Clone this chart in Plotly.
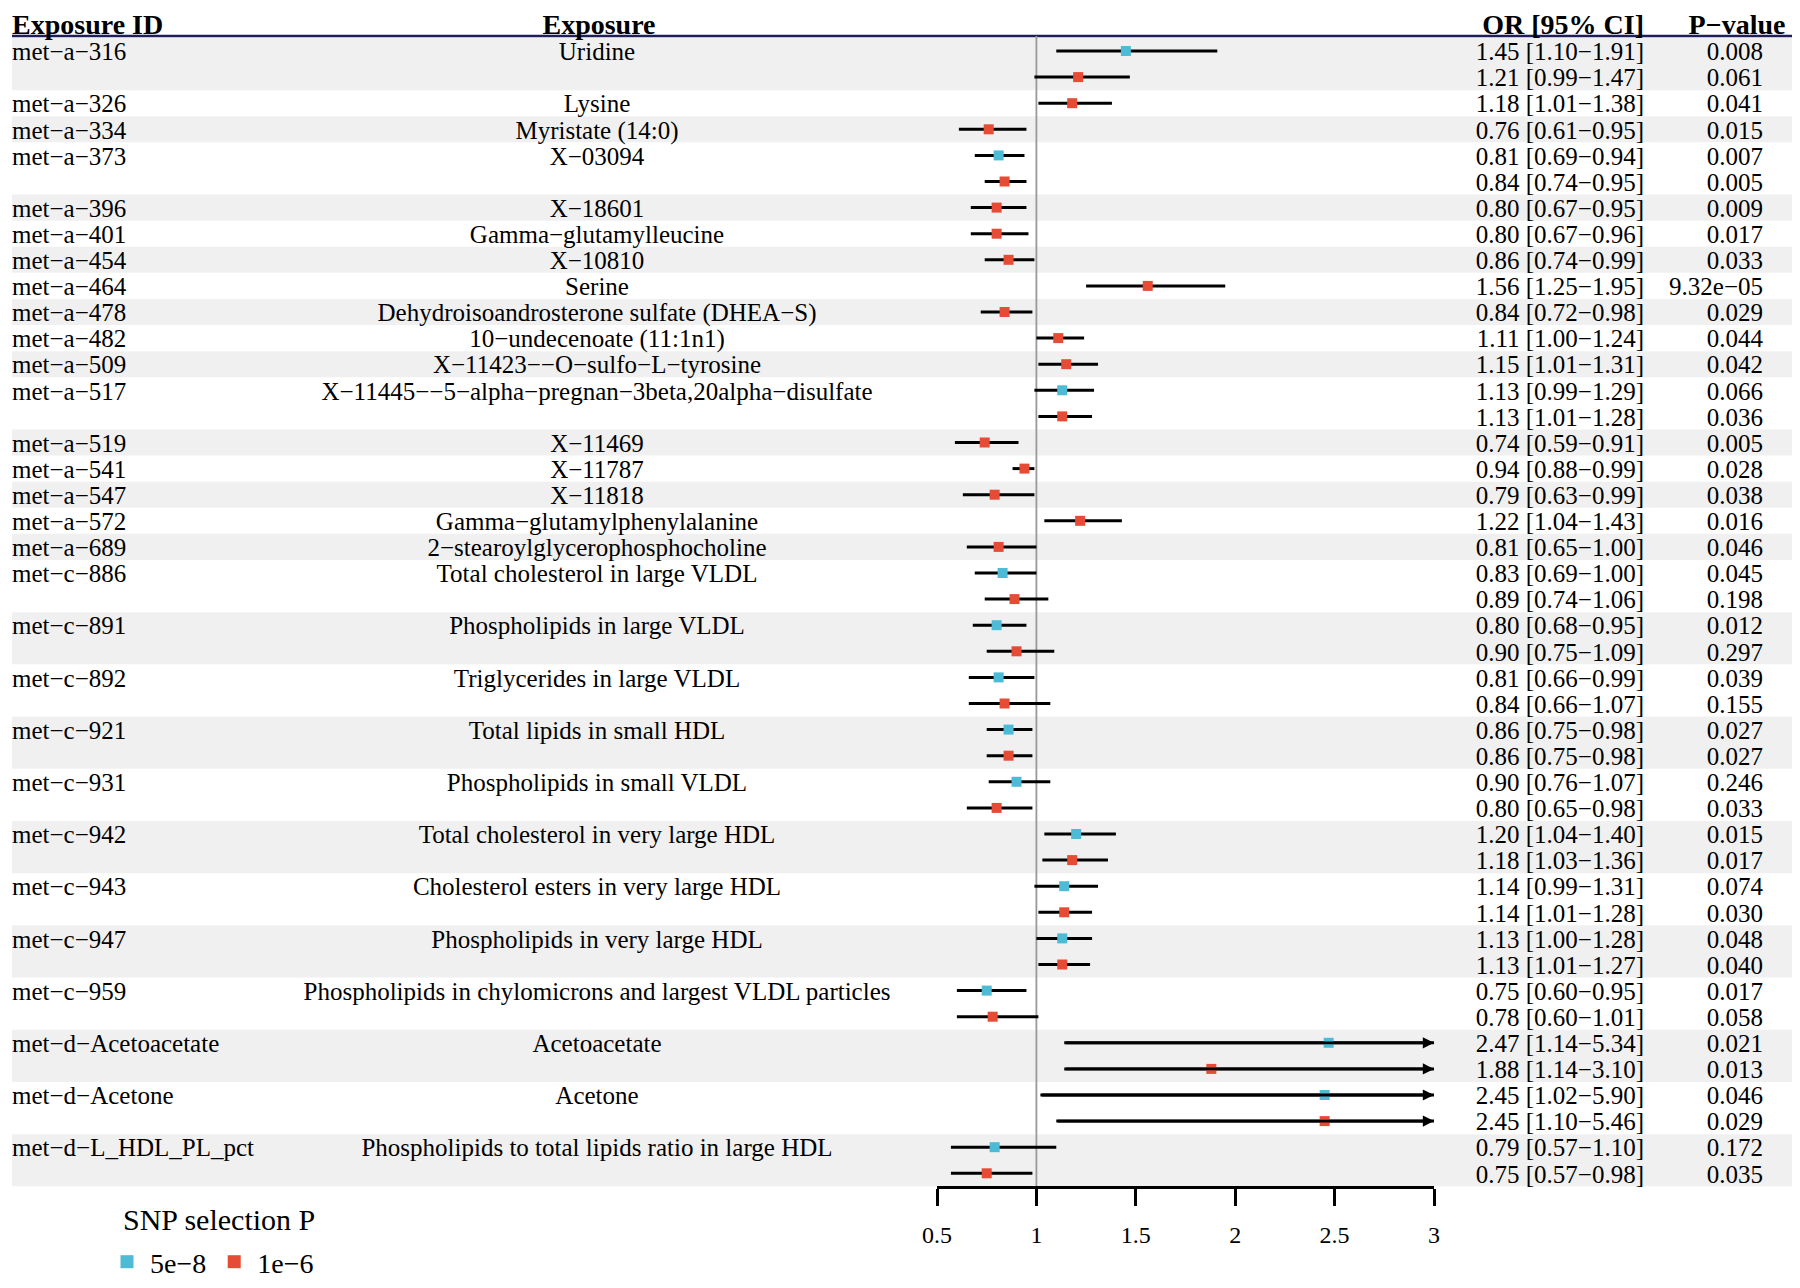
import plotly.graph_objects as go

# one entry per row of the forest plot (blank id = second SNP-threshold row of same exposure)
exposure_ids = ["met−a−316", "", "met−a−326", "met−a−334", "met−a−373", "", "met−a−396", "met−a−401",
                "met−a−454", "met−a−464", "met−a−478", "met−a−482", "met−a−509", "met−a−517", "",
                "met−a−519", "met−a−541", "met−a−547", "met−a−572", "met−a−689", "met−c−886", "",
                "met−c−891", "", "met−c−892", "", "met−c−921", "", "met−c−931", "", "met−c−942", "",
                "met−c−943", "", "met−c−947", "", "met−c−959", "", "met−d−Acetoacetate", "",
                "met−d−Acetone", "", "met−d−L_HDL_PL_pct", ""]
exposures = ["Uridine", "", "Lysine", "Myristate (14:0)", "X−03094", "", "X−18601", "Gamma−glutamylleucine",
             "X−10810", "Serine", "Dehydroisoandrosterone sulfate (DHEA−S)", "10−undecenoate (11:1n1)",
             "X−11423−−O−sulfo−L−tyrosine", "X−11445−−5−alpha−pregnan−3beta,20alpha−disulfate", "",
             "X−11469", "X−11787", "X−11818", "Gamma−glutamylphenylalanine", "2−stearoylglycerophosphocholine",
             "Total cholesterol in large VLDL", "", "Phospholipids in large VLDL", "",
             "Triglycerides in large VLDL", "", "Total lipids in small HDL", "", "Phospholipids in small VLDL", "",
             "Total cholesterol in very large HDL", "", "Cholesterol esters in very large HDL", "",
             "Phospholipids in very large HDL", "", "Phospholipids in chylomicrons and largest VLDL particles", "",
             "Acetoacetate", "", "Acetone", "", "Phospholipids to total lipids ratio in large HDL", ""]
snp_p = ["5e−8", "1e−6", "1e−6", "1e−6", "5e−8", "1e−6", "1e−6", "1e−6", "1e−6", "1e−6", "1e−6", "1e−6",
         "1e−6", "5e−8", "1e−6", "1e−6", "1e−6", "1e−6", "1e−6", "1e−6", "5e−8", "1e−6", "5e−8", "1e−6",
         "5e−8", "1e−6", "5e−8", "1e−6", "5e−8", "1e−6", "5e−8", "1e−6", "5e−8", "1e−6", "5e−8", "1e−6",
         "5e−8", "1e−6", "5e−8", "1e−6", "5e−8", "1e−6", "5e−8", "1e−6"]
or_vals = [1.45, 1.21, 1.18, 0.76, 0.81, 0.84, 0.80, 0.80, 0.86, 1.56, 0.84, 1.11, 1.15, 1.13, 1.13,
           0.74, 0.94, 0.79, 1.22, 0.81, 0.83, 0.89, 0.80, 0.90, 0.81, 0.84, 0.86, 0.86, 0.90, 0.80,
           1.20, 1.18, 1.14, 1.14, 1.13, 1.13, 0.75, 0.78, 2.47, 1.88, 2.45, 2.45, 0.79, 0.75]
ci_low = [1.10, 0.99, 1.01, 0.61, 0.69, 0.74, 0.67, 0.67, 0.74, 1.25, 0.72, 1.00, 1.01, 0.99, 1.01,
          0.59, 0.88, 0.63, 1.04, 0.65, 0.69, 0.74, 0.68, 0.75, 0.66, 0.66, 0.75, 0.75, 0.76, 0.65,
          1.04, 1.03, 0.99, 1.01, 1.00, 1.01, 0.60, 0.60, 1.14, 1.14, 1.02, 1.10, 0.57, 0.57]
ci_high = [1.91, 1.47, 1.38, 0.95, 0.94, 0.95, 0.95, 0.96, 0.99, 1.95, 0.98, 1.24, 1.31, 1.29, 1.28,
           0.91, 0.99, 0.99, 1.43, 1.00, 1.00, 1.06, 0.95, 1.09, 0.99, 1.07, 0.98, 0.98, 1.07, 0.98,
           1.40, 1.36, 1.31, 1.28, 1.28, 1.27, 0.95, 1.01, 5.34, 3.10, 5.90, 5.46, 1.10, 0.98]
p_values = ["0.008", "0.061", "0.041", "0.015", "0.007", "0.005", "0.009", "0.017", "0.033", "9.32e−05",
            "0.029", "0.044", "0.042", "0.066", "0.036", "0.005", "0.028", "0.038", "0.016", "0.046",
            "0.045", "0.198", "0.012", "0.297", "0.039", "0.155", "0.027", "0.027", "0.246", "0.033",
            "0.015", "0.017", "0.074", "0.030", "0.048", "0.040", "0.017", "0.058", "0.021", "0.013",
            "0.046", "0.029", "0.172", "0.035"]
tick_vals = [0.5, 1, 1.5, 2, 2.5, 3]
tick_text = ["0.5", "1", "1.5", "2", "2.5", "3"]
legend_keys = ["5e−8", "1e−6"]
x_max = 3

colors = {"5e−8": "#4DBBD5", "1e−6": "#E64B35"}
FONT = "Liberation Serif, Times New Roman, serif"
W, H = 1800, 1288
OFF = 8                          # page body margin, positions below are in screen pixels
top, row_h = 51, 26.1            # screen y of first row centre, row pitch
TXT_DY = 3                       # nudge so text sits centred on its row
n = len(or_vals)
rows = list(range(n))


def row_at(y):
    return (y - top) / row_h


def px(x):
    return (x - OFF) / W


def py(y):
    return 1 - (y - OFF) / H


y_axis_line = row_at(1187)
y_header = row_at(24 + TXT_DY)
y_hline = row_at(36)
text_rows = [r + TXT_DY / row_h for r in rows]

fig = go.Figure()

# alternating grey bands per exposure group
shapes = []
starts = [i for i, eid in enumerate(exposure_ids) if eid] + [n]
for g in range(len(starts) - 1):
    if g % 2 == 0:
        shapes.append(dict(type="rect", xref="paper", yref="y", x0=px(12), x1=1,
                           y0=starts[g] - 0.5, y1=starts[g + 1] - 0.5,
                           fillcolor="#F0F0F0", line=dict(width=0), layer="below"))
shapes.append(dict(type="line", xref="paper", yref="y", x0=px(12), x1=1, y0=y_hline, y1=y_hline,
                   line=dict(color="#1E1E5A", width=2.5), layer="below"))
shapes.append(dict(type="line", xref="x", yref="y", x0=1, x1=1, y0=y_hline, y1=y_axis_line,
                   line=dict(color="#999999", width=1.8), layer="below"))

# CI lines
cx, cy = [], []
for i in rows:
    cx += [ci_low[i], min(ci_high[i], x_max), None]
    cy += [i, i, None]
fig.add_trace(go.Scatter(x=cx, y=cy, mode="lines", line=dict(color="black", width=3),
                         showlegend=False, hoverinfo="skip"))

# arrows for CIs beyond the axis
annotations = []
for i in rows:
    if ci_high[i] > x_max:
        annotations.append(dict(x=x_max, y=i, ax=ci_low[i], ay=i, xref="x", yref="y", axref="x", ayref="y",
                                text="", showarrow=True, arrowhead=2, arrowsize=0.8, arrowwidth=2.8,
                                arrowcolor="black", standoff=0))

# point estimates
for key in legend_keys:
    idx = [i for i in rows if snp_p[i] == key]
    fig.add_trace(go.Scatter(x=[or_vals[i] for i in idx], y=idx, mode="markers", name=key, showlegend=False,
                             marker=dict(symbol="square", size=10, color=colors[key])))
# legend entries
for key in legend_keys:
    fig.add_trace(go.Scatter(x=[None], y=[None], mode="markers", name=key,
                             marker=dict(symbol="square", size=13, color=colors[key])))

# text columns (x2 is scaled in screen pixels across the whole page)
or_text = [f"{o:.2f} [{l:.2f}−{h:.2f}]" for o, l, h in zip(or_vals, ci_low, ci_high)]
tf = dict(family=FONT, size=25, color="black")
cols = [(12, exposure_ids, "middle right"), (597, exposures, "middle center"),
        (1644, or_text, "middle left"), (1763, p_values, "middle left")]
for x, txt, pos in cols:
    fig.add_trace(go.Scatter(x=[x] * n, y=text_rows, text=txt, mode="text", textposition=pos,
                             textfont=tf, xaxis="x2", showlegend=False, cliponaxis=False, hoverinfo="skip"))

# headers
hf = dict(family=FONT, size=28, color="black", weight="bold")
headers = [(12, "Exposure ID", "middle right"), (599, "Exposure", "middle center"),
           (1644, "OR [95% CI]", "middle left"), (1737, "P−value", "middle center")]
for x, txt, pos in headers:
    fig.add_trace(go.Scatter(x=[x], y=[y_header], text=[txt], mode="text", textposition=pos,
                             textfont=hf, xaxis="x2", showlegend=False, cliponaxis=False, hoverinfo="skip"))

# legend title
fig.add_trace(go.Scatter(x=[123], y=[row_at(1219 + TXT_DY)], text=["SNP selection P"], mode="text",
                         textposition="middle right", textfont=dict(family=FONT, size=30, color="black"),
                         xaxis="x2", showlegend=False, cliponaxis=False, hoverinfo="skip"))

fig.update_layout(
    width=W, height=H,
    margin=dict(l=0, r=0, t=0, b=0, autoexpand=False),
    paper_bgcolor="white", plot_bgcolor="rgba(0,0,0,0)",
    font=dict(family=FONT, size=25, color="black"),
    shapes=shapes, annotations=annotations,
    xaxis=dict(domain=[px(937), px(1434)], range=[0.5, 3], anchor="free", position=py(1187),
               showline=True, linecolor="black", linewidth=2.5, ticks="outside", ticklen=17, tickwidth=2.5,
               tickcolor="black", tickvals=tick_vals, ticktext=tick_text, tickfont=dict(size=24),
               ticklabelstandoff=8, showgrid=False, zeroline=False),
    xaxis2=dict(domain=[0, 1], range=[OFF, W + OFF], anchor="y", visible=False),
    yaxis=dict(domain=[0, 1], range=[row_at(H + OFF), row_at(OFF)], visible=False, anchor="x"),
    legend=dict(orientation="h", x=px(104), xanchor="left", y=py(1237), yanchor="top",
                font=dict(size=28), bgcolor="rgba(0,0,0,0)", itemwidth=36),
)

fig.write_html("out.html")
